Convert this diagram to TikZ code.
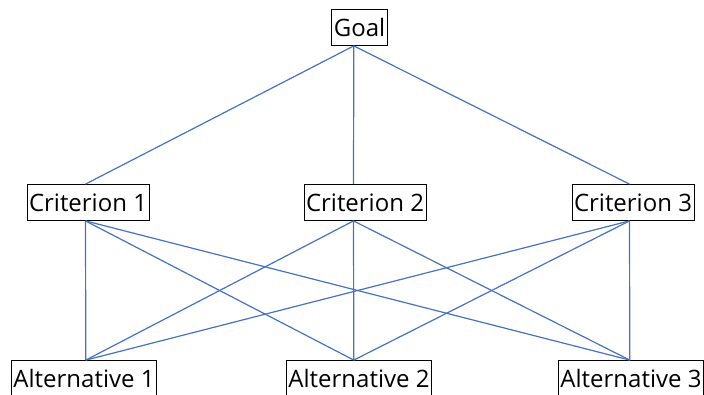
\documentclass[tikz,border=0pt]{standalone}
\usepackage{fontspec}
\setmainfont{Open Sans}
\definecolor{linkblue}{RGB}{68,114,196}
\begin{document}
\begin{tikzpicture}[
    x=1pt, y=1pt,
    box/.style={draw, line width=0.8pt, inner xsep=2pt, inner ysep=0pt,
                minimum height=36pt, font=\fontsize{24}{24}\selectfont},
    link/.style={draw=linkblue, line width=1.2pt}]
  \useasboundingbox (0,0) rectangle (704,394);
  \node[box] (goal) at (359.5,366.5) {Goal};
  \node[box] (crit1) at (88,191.5) {Criterion 1};
  \node[box] (crit2) at (365,191.5) {Criterion 2};
  \node[box] (crit3) at (633,191.5) {Criterion 3};
  \node[box] (alt1) at (84,15.5) {Alternative 1};
  \node[box] (alt2) at (359,15.5) {Alternative 2};
  \node[box] (alt3) at (631,15.5) {Alternative 3};
  % where the links meet the boxes
  \coordinate (goal-s) at ([xshift=-5.7pt]goal.south);
  \coordinate (crit1-n) at ([xshift=-2.5pt]crit1.north);
  \coordinate (crit2-n) at ([xshift=-11.5pt]crit2.north);
  \coordinate (crit3-n) at ([xshift=-3.5pt]crit3.north);
  \coordinate (crit1-s) at ([xshift=-2.5pt]crit1.south);
  \coordinate (crit2-s) at ([xshift=-11.5pt]crit2.south);
  \coordinate (crit3-s) at ([xshift=-3.5pt]crit3.south);
  \coordinate (alt1-n) at ([xshift=1.8pt]alt1.north);
  \coordinate (alt2-n) at ([xshift=-5.2pt]alt2.north);
  \coordinate (alt3-n) at ([xshift=-1.2pt]alt3.north);
  \foreach \c in {1,2,3}
    \draw[link] (goal-s) -- (crit\c-n);
  \foreach \c in {1,2,3}
    \foreach \a in {1,2,3}
      \draw[link] (crit\c-s) -- (alt\a-n);
\end{tikzpicture}
\end{document}
